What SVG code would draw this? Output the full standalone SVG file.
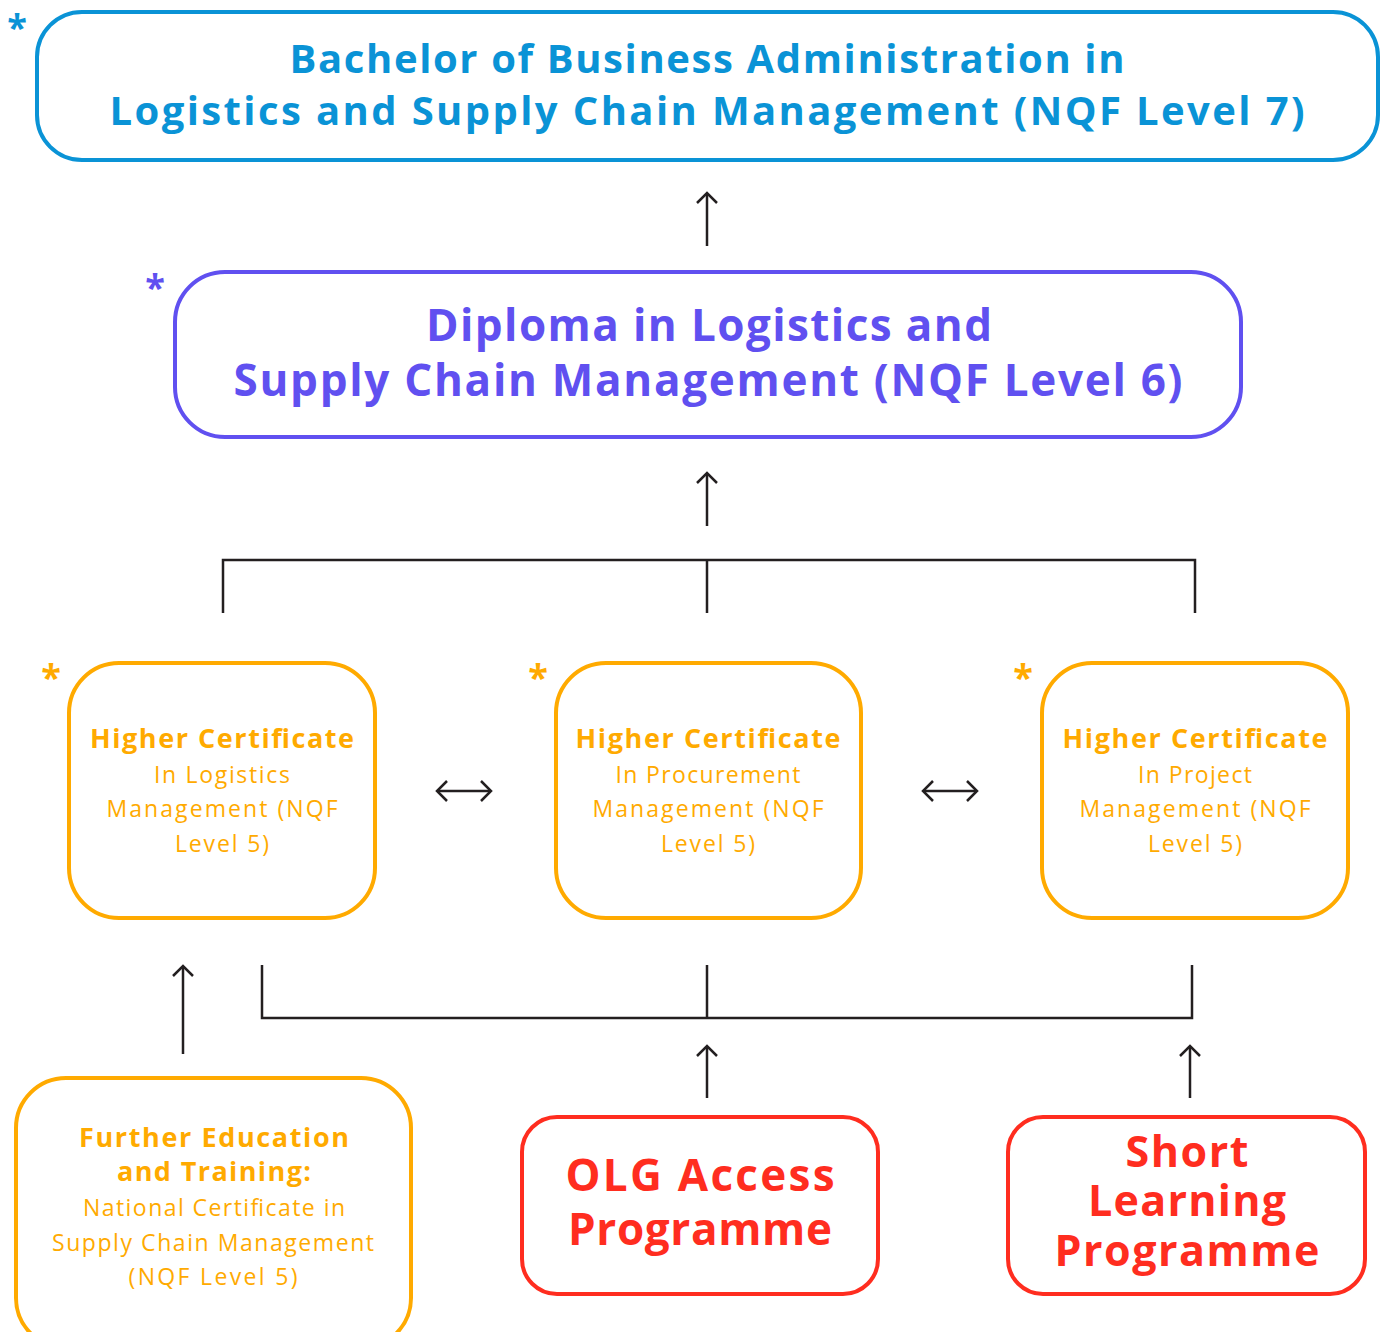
<svg xmlns="http://www.w3.org/2000/svg" width="1383" height="1332" viewBox="0 0 1383 1332">
<defs>
<style>
text{font-family:"Open Sans","Noto Sans",sans-serif;text-anchor:middle}
.b{font-weight:700}
.box{fill:#fff;stroke-width:4}
.ln{fill:none;stroke:#231f20;stroke-width:2.5}
.blue{fill:#0a93d6}.purple{fill:#6050f0}.orange{fill:#ffaa00}.red{fill:#ff2d1f}
.ast{font-weight:700;font-size:36px}
</style>
<marker id="ar" viewBox="0 0 14 24" refX="12" refY="12" markerWidth="14" markerHeight="24" markerUnits="userSpaceOnUse" orient="auto-start-reverse">
<path d="M2,2 L12,12 L2,22" fill="none" stroke="#231f20" stroke-width="2.5"/>
</marker>
</defs>
<rect width="1383" height="1332" fill="#fff"/>
<g id="connectors">
<line class="ln" x1="707" y1="246" x2="707" y2="193" marker-end="url(#ar)"/>
<line class="ln" x1="707" y1="526" x2="707" y2="473" marker-end="url(#ar)"/>
<path class="ln" d="M223,613 V560 H1195 V613 M707,560 V613"/>
<line class="ln" x1="437" y1="791" x2="491" y2="791" marker-start="url(#ar)" marker-end="url(#ar)"/>
<line class="ln" x1="923" y1="791" x2="977" y2="791" marker-start="url(#ar)" marker-end="url(#ar)"/>
<path class="ln" d="M262,965 V1018 H1192 V965 M707,965 V1018"/>
<line class="ln" x1="183" y1="1054" x2="183" y2="966" marker-end="url(#ar)"/>
<line class="ln" x1="707" y1="1098" x2="707" y2="1046" marker-end="url(#ar)"/>
<line class="ln" x1="1190" y1="1098" x2="1190" y2="1046" marker-end="url(#ar)"/>
</g>
<g id="bachelor">
<rect class="box" x="37" y="12" width="1341" height="148" rx="45" stroke="#0a93d6"/>
<text class="ast blue" x="17" y="40">*</text>
<text class="b blue" font-size="40" x="707" y="73" textLength="835" lengthAdjust="spacing">Bachelor of Business Administration in</text>
<text class="b blue" font-size="40" x="707" y="125" textLength="1195" lengthAdjust="spacing">Logistics and Supply Chain Management (NQF Level 7)</text>
</g>
<g id="diploma">
<rect class="box" x="175" y="272" width="1066" height="165" rx="50" stroke="#6050f0"/>
<text class="ast purple" x="155" y="300">*</text>
<text class="b purple" font-size="44" x="709" y="341" textLength="566" lengthAdjust="spacing">Diploma in Logistics and</text>
<text class="b purple" font-size="44" x="708" y="396" textLength="949" lengthAdjust="spacing">Supply Chain Management (NQF Level 6)</text>
</g>
<g id="hc-logistics">
<rect class="box" x="69" y="663" width="306" height="255" rx="50" stroke="#ffaa00"/>
<text class="ast orange" x="51" y="690">*</text>
<text class="b orange" font-size="27" x="222" y="748" textLength="264" lengthAdjust="spacing">Higher Certificate</text>
<text class="orange" font-size="23" x="222" y="783" textLength="136" lengthAdjust="spacing">In Logistics</text>
<text class="orange" font-size="23" x="222" y="817" textLength="231" lengthAdjust="spacing">Management (NQF</text>
<text class="orange" font-size="23" x="222" y="852" textLength="94" lengthAdjust="spacing">Level 5)</text>
</g>
<g id="hc-procurement">
<rect class="box" x="556" y="663" width="305" height="255" rx="50" stroke="#ffaa00"/>
<text class="ast orange" x="538" y="690">*</text>
<text class="b orange" font-size="27" x="708" y="748" textLength="265" lengthAdjust="spacing">Higher Certificate</text>
<text class="orange" font-size="23" x="708" y="783" textLength="185" lengthAdjust="spacing">In Procurement</text>
<text class="orange" font-size="23" x="708" y="817" textLength="231" lengthAdjust="spacing">Management (NQF</text>
<text class="orange" font-size="23" x="708" y="852" textLength="94" lengthAdjust="spacing">Level 5)</text>
</g>
<g id="hc-project">
<rect class="box" x="1042" y="663" width="306" height="255" rx="50" stroke="#ffaa00"/>
<text class="ast orange" x="1023" y="690">*</text>
<text class="b orange" font-size="27" x="1195" y="748" textLength="265" lengthAdjust="spacing">Higher Certificate</text>
<text class="orange" font-size="23" x="1195" y="783" textLength="114" lengthAdjust="spacing">In Project</text>
<text class="orange" font-size="23" x="1195" y="817" textLength="231" lengthAdjust="spacing">Management (NQF</text>
<text class="orange" font-size="23" x="1195" y="852" textLength="94" lengthAdjust="spacing">Level 5)</text>
</g>
<g id="fet">
<rect class="box" x="16" y="1078" width="395" height="270" rx="50" stroke="#ffaa00"/>
<text class="b orange" font-size="27" x="214" y="1147" textLength="270" lengthAdjust="spacing">Further Education</text>
<text class="b orange" font-size="27" x="214" y="1181" textLength="194" lengthAdjust="spacing">and Training:</text>
<text class="orange" font-size="23" x="214" y="1216" textLength="262" lengthAdjust="spacing">National Certificate in</text>
<text class="orange" font-size="23" x="213" y="1251" textLength="322" lengthAdjust="spacing">Supply Chain Management</text>
<text class="orange" font-size="23" x="213" y="1285" textLength="169" lengthAdjust="spacing">(NQF Level 5)</text>
</g>
<g id="olg">
<rect class="box" x="522" y="1117" width="356" height="177" rx="35" stroke="#ff2d1f"/>
<text class="b red" font-size="44" x="700" y="1191" textLength="269" lengthAdjust="spacing">OLG Access</text>
<text class="b red" font-size="44" x="700" y="1245" textLength="264" lengthAdjust="spacing">Programme</text>
</g>
<g id="slp">
<rect class="box" x="1008" y="1117" width="357" height="177" rx="35" stroke="#ff2d1f"/>
<text class="b red" font-size="43" x="1187" y="1167" textLength="123" lengthAdjust="spacing">Short</text>
<text class="b red" font-size="43" x="1187" y="1216" textLength="198" lengthAdjust="spacing">Learning</text>
<text class="b red" font-size="43" x="1187" y="1266" textLength="265" lengthAdjust="spacing">Programme</text>
</g>
</svg>
